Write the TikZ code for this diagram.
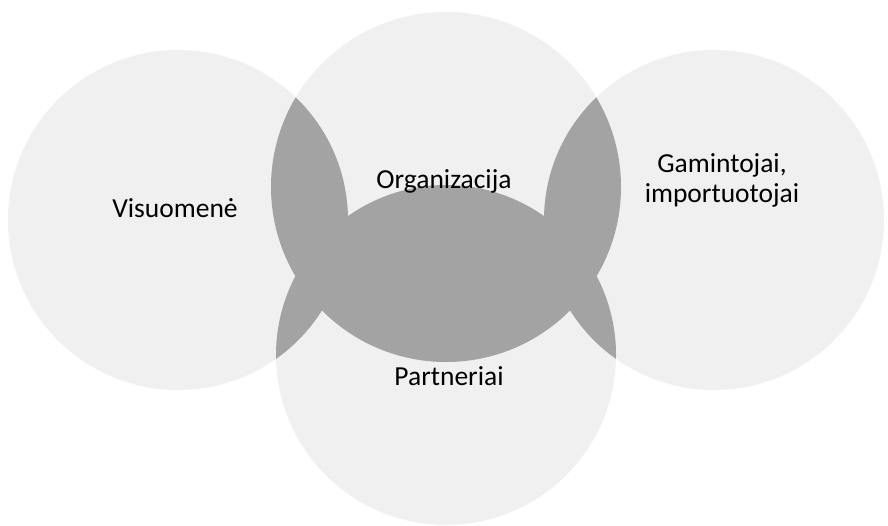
\documentclass[tikz,border=0pt]{standalone}
\usepackage{fontspec}
\setmainfont{Carlito}
\begin{document}
\begin{tikzpicture}[x=1pt,y=-1pt,
  zone/.style={circle, fill=black!6, inner sep=0pt, minimum size=#1},
  lbl/.style={font=\fontsize{27.5}{30}\selectfont, text=black, inner sep=0pt, align=center},
  overlap/.style={fill=black!36}]
\useasboundingbox (0,0) rectangle (888,525);
% the four circles
\node[zone=340pt] (left)   at (178,220) {};
\node[zone=340pt] (right)  at (714,220) {};
\node[zone=350pt] (top)    at (446,187) {};
\node[zone=340pt] (bottom) at (446,355) {};
% overlaps
\begin{scope}
  \clip (top.center) circle[radius=175pt];
  \fill[overlap] (left.center) circle[radius=170pt];
  \fill[overlap] (right.center) circle[radius=170pt];
  \fill[overlap] (bottom.center) circle[radius=170pt];
\end{scope}
\begin{scope}
  \clip (bottom.center) circle[radius=170pt];
  \fill[overlap] (left.center) circle[radius=170pt];
  \fill[overlap] (right.center) circle[radius=170pt];
\end{scope}
% labels
\node[lbl, anchor=base] (tv) at (175,217) {Visuomenė};
\node[lbl, anchor=base] (to) at (444,188) {Organizacija};
\node[lbl, anchor=base] (tp) at (449,385) {Partneriai};
\node[lbl, anchor=base] (tg) at (722,202) {Gamintojai,\\importuotojai};
\end{tikzpicture}
\end{document}
